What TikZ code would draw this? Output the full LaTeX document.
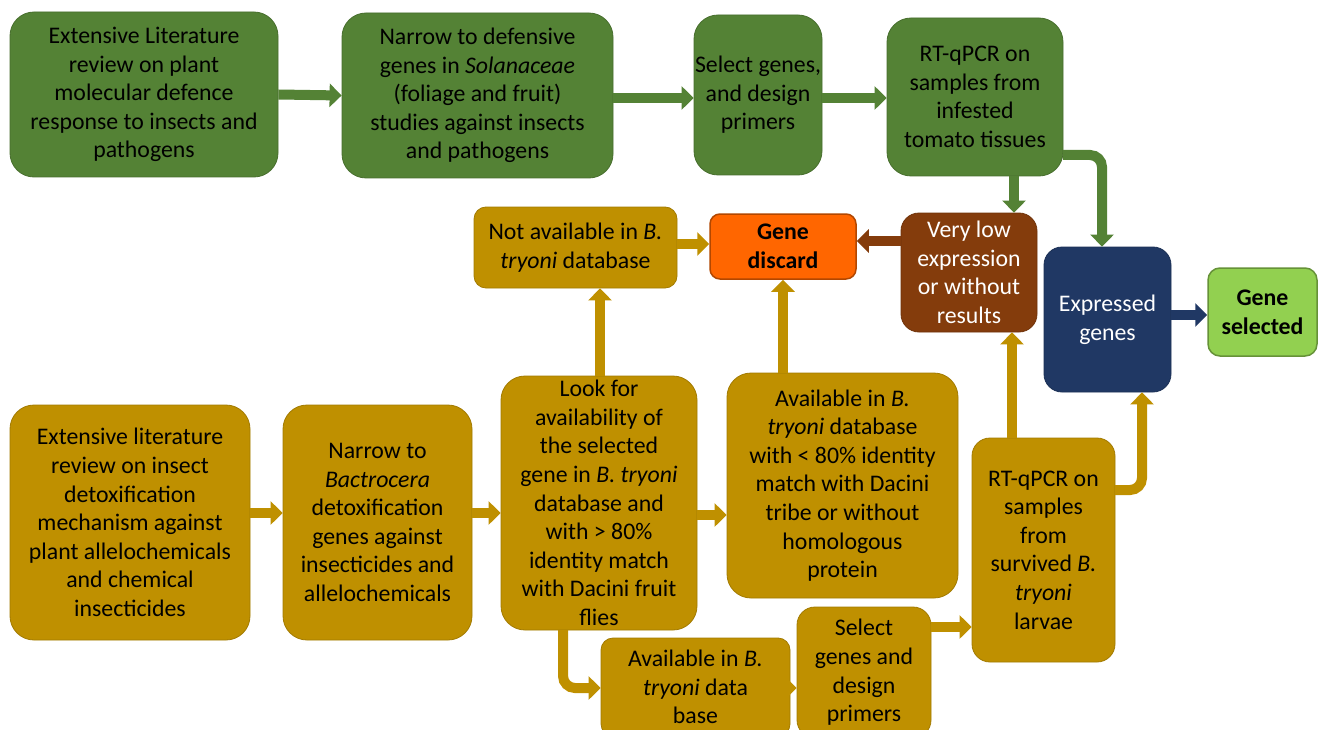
\documentclass[tikz,border=0pt]{standalone}
\usepackage{fontspec}
\setmainfont{Carlito}
\usetikzlibrary{arrows.meta}
\definecolor{cgreen}{HTML}{548235}
\definecolor{cgold}{HTML}{BF9000}
\definecolor{corange}{HTML}{FF6600}
\definecolor{cbrown}{HTML}{843C0C}
\definecolor{cnavy}{HTML}{203864}
\definecolor{clight}{HTML}{92D050}
\tikzset{
  base/.style={rectangle, inner sep=0pt, align=center, font=\fontsize{23.8}{28.6}\selectfont, line width=0.8pt},
  gbox/.style={base, fill=cgreen, draw=cgreen!85!black, rounded corners=24pt, text=black},
  obox/.style={base, fill=cgold, draw=cgold!85!black, rounded corners=24pt, text=black},
  sgold/.style={base, fill=cgold, draw=cgold!85!black, rounded corners=12pt, text=black},
  discardbox/.style={base, fill=corange, draw=corange!70!black, rounded corners=10pt, line width=1.5pt},
  lowbox/.style={base, fill=cbrown, draw=cbrown!85!black, rounded corners=18pt, text=white},
  exbox/.style={base, fill=cnavy, draw=cnavy!85!black, rounded corners=18pt, text=white},
  selbox/.style={base, fill=clight, draw=clight!70!black, rounded corners=12pt, line width=1.5pt},
  arr/.style={line width=10pt, -{Triangle[length=12pt,width=23pt]}, rounded corners=12pt},
}
\begin{document}
\begin{tikzpicture}[x=1pt,y=-1pt]
\useasboundingbox (0,0) rectangle (1327,730);
\clip (0,0) rectangle (1327,730);
\fill[white] (0,0) rectangle (1327,730);
% top row
\node[gbox, minimum width=268pt, minimum height=165pt] (g1) at (144,94.5) {Extensive Literature\\review on plant\\molecular defence\\response to insects and\\pathogens};
\node[gbox, minimum width=271pt, minimum height=165pt] (g2) at (477.5,95.5) {Narrow to defensive\\genes in \textit{Solanaceae}\\(foliage and fruit)\\studies against insects\\and pathogens};
\node[gbox, minimum width=128pt, minimum height=160pt] (g3) at (758,95) {Select genes,\\and design\\primers};
\node[gbox, minimum width=176pt, minimum height=158pt] (g4) at (975,97) {RT-qPCR on\\samples from\\infested\\tomato tissues};
% middle
\node[discardbox, minimum width=146pt, minimum height=65pt] (dis) at (783,246.5) {\textbf{Gene}\\\textbf{discard}};
\node[lowbox, minimum width=136pt, minimum height=119pt] (low) at (969,272.5) {Very low\\expression\\or without\\results};
\node[exbox, minimum width=127pt, minimum height=145pt] (ex) at (1107.5,319.5) {Expressed\\genes};
\node[selbox, minimum width=109pt, minimum height=88pt] (sel) at (1262.5,312) {\textbf{Gene}\\\textbf{selected}};
\node[sgold, minimum width=203pt, minimum height=81pt] (na) at (575.5,247.5) {Not available in \textit{B.}\\\textit{tryoni} database};
% bottom
\node[obox, minimum width=240pt, minimum height=235pt] (e1) at (130,522.5) {Extensive literature\\review on insect\\detoxification\\mechanism against\\plant allelochemicals\\and chemical\\insecticides};
\node[obox, minimum width=189pt, minimum height=235pt] (e2) at (377.5,522.5) {Narrow to\\\textit{Bactrocera}\\detoxification\\genes against\\insecticides and\\allelochemicals};
\node[obox, minimum width=196pt, minimum height=254pt] (look) at (599,503) {Look for\\availability of\\the selected\\gene in \textit{B. tryoni}\\database and\\with > 80\%\\identity match\\with Dacini fruit\\flies};
\node[obox, minimum width=231pt, minimum height=225pt] (av) at (842.5,485.5) {Available in \textit{B.}\\\textit{tryoni} database\\with < 80\% identity\\match with Dacini\\tribe or without\\homologous\\protein};
\node[sgold, minimum width=189pt, minimum height=98pt] (adb) at (695.5,687) {Available in \textit{B.}\\\textit{tryoni} data\\base};
\node[sgold, rounded corners=18pt, minimum width=134pt, minimum height=131pt] (s2) at (864,672.5) {Select\\genes and\\design\\primers};
\node[obox, rounded corners=18pt, minimum width=143pt, minimum height=224pt] (rt) at (1043.5,550) {RT-qPCR on\\samples\\from\\survived \textit{B.}\\\textit{tryoni}\\larvae};
% coordinates
\coordinate (g4a) at (1063,155);
\coordinate (rta) at (1115,490);
\coordinate (looka) at (563,630);
% green arrows
\draw[arr, cgreen] (g1.east) -- (g2.west);
\draw[arr, cgreen] (g2.east |- 0,98) -- (g3.west |- 0,98);
\draw[arr, cgreen] (g3.east |- 0,98) -- (g4.west |- 0,98);
\draw[arr, cgreen] (g4.south -| 1014,0) -- (low.north -| 1014,0);
\draw[arr, cgreen] (g4a) -- (1102,155) -- (ex.north -| 1102,0);
% brown and navy
\draw[arr, cbrown] (low.west |- 0,241) -- (dis.east |- 0,241);
\draw[arr, cnavy] (ex.east |- 0,315) -- (sel.west |- 0,315);
% gold arrows
\draw[arr, cgold] (na.east |- 0,244) -- (dis.west |- 0,244);
\draw[arr, cgold] (look.north -| 600,0) -- (na.south -| 600,0);
\draw[arr, cgold] (av.north -| 783,0) -- (dis.south);
\draw[arr, cgold] (e1.east |- 0,513) -- (e2.west |- 0,513);
\draw[arr, cgold] (e2.east |- 0,513) -- (look.west |- 0,513);
\draw[arr, cgold] (look.east |- 0,515) -- (av.west |- 0,515);
\draw[arr, cgold] (looka) -- (563,688) -- (adb.west |- 0,688);
\draw[arr, cgold] (adb.east |- 0,688) -- (s2.west |- 0,688);
\draw[arr, cgold] (s2.east |- 0,627) -- (rt.west |- 0,627);
\draw[arr, cgold] (rt.north -| 1012,0) -- (low.south -| 1012,0);
\draw[arr, cgold] (rta) -- (1142,490) -- (ex.south -| 1142,0);
\end{tikzpicture}
\end{document}
